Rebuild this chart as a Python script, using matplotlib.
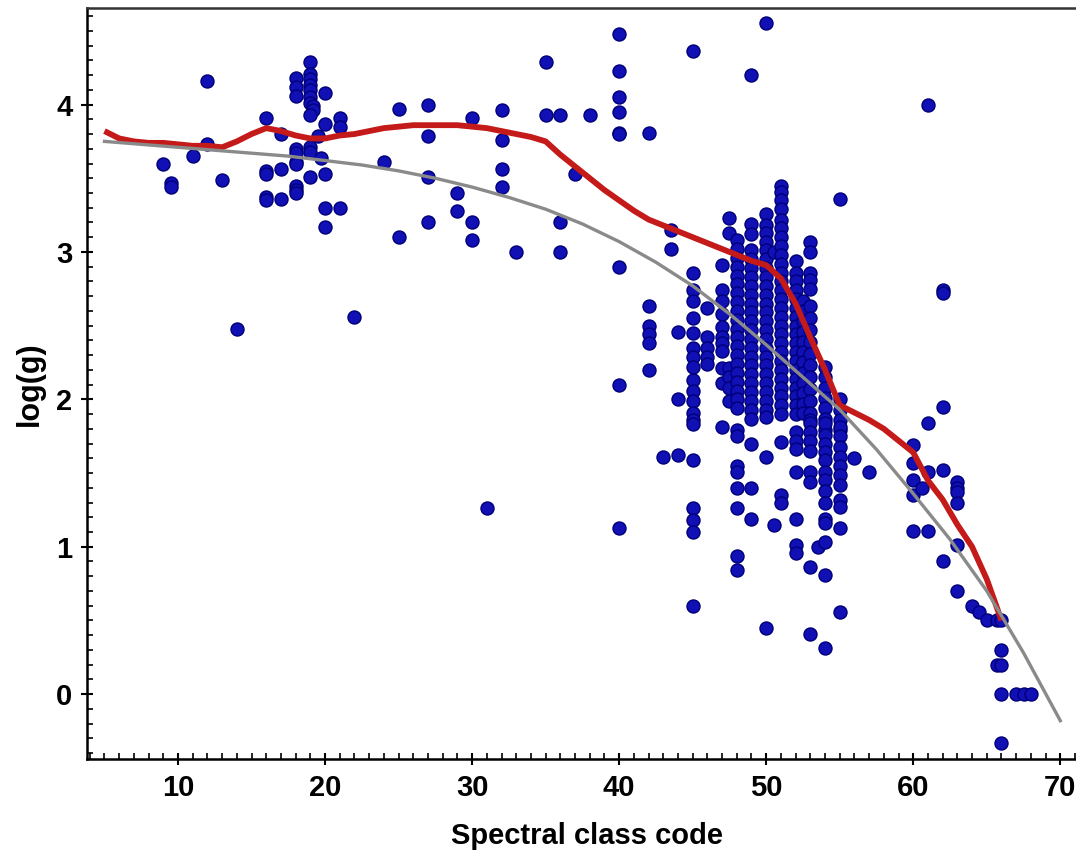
import numpy as np
import matplotlib
matplotlib.use("Agg")
import matplotlib.pyplot as plt
from matplotlib.ticker import MultipleLocator

plt.rcParams['font.family'] = ['Liberation Sans', 'DejaVu Sans']
plt.rcParams['font.weight'] = 'bold'

# sparse stars, hot side (spectral code <= 38)
hot_x = [9, 9.5, 9.5, 11, 12, 12, 13, 14, 16, 16, 16, 16, 16, 17, 17, 17,
         18, 18, 18, 18, 18, 18, 18, 18, 18, 18,
         19, 19, 19, 19, 19, 19, 19, 19.2, 19.2, 19, 19, 19, 19, 19.5, 19.7,
         20, 20, 20, 20, 20, 21, 21, 21, 22, 24, 25, 25, 27, 27, 27, 27,
         29, 29, 30, 30, 30, 31, 32, 32, 32, 32, 33, 35, 35, 36, 36, 36, 37, 38]
hot_y = [3.60, 3.47, 3.44, 3.65, 4.16, 3.73, 3.49, 2.48, 3.91, 3.55, 3.53, 3.37, 3.35, 3.80, 3.56, 3.36,
         4.18, 4.12, 4.06, 3.70, 3.67, 3.61, 3.60, 3.45, 3.42, 3.40,
         4.29, 4.21, 4.17, 4.13, 4.10, 4.05, 4.01, 3.99, 3.96, 3.93, 3.71, 3.68, 3.51, 3.79, 3.64,
         4.08, 3.87, 3.53, 3.30, 3.17, 3.91, 3.85, 3.30, 2.56, 3.61, 3.97, 3.10, 4.00, 3.79, 3.51, 3.20,
         3.40, 3.28, 3.91, 3.20, 3.08, 1.26, 3.96, 3.76, 3.56, 3.44, 3.00, 4.29, 3.93, 3.93, 3.20, 3.00, 3.53, 3.93]

# sparse stars, 40 - 46
mid_x = [40] * 9 + [42] * 6 + [43, 43.5, 43.5] + [44] * 3 + [45] * 20 + [46] * 5
mid_y = [4.48, 4.23, 4.05, 3.95, 3.81, 3.80, 2.90, 2.10, 1.13,
         3.81, 2.63, 2.50, 2.44, 2.38, 2.20,
         1.61, 3.15, 3.02,
         2.46, 2.00, 1.62,
         4.36, 2.86, 2.74, 2.67, 2.55, 2.45, 2.35, 2.29, 2.22, 2.13, 2.06, 1.99, 1.91, 1.86, 1.83,
         1.59, 1.26, 1.18, 1.10, 0.60,
         2.62, 2.42, 2.35, 2.29, 2.24]

# giant clump, 47 - 55
c47 = [2.91, 2.74, 2.67, 2.58, 2.49, 2.42, 2.38, 2.33, 2.21, 2.11, 1.81]
c47h = [3.23, 3.13, 2.21, 2.15, 2.08, 1.99]
c48 = [3.08, 3.02, 2.96, 2.90, 2.84, 2.78, 2.72, 2.66, 2.60, 2.54, 2.48, 2.42, 2.36, 2.30,
       2.24, 2.18, 2.12, 2.06, 2.00, 1.94, 1.79, 1.75, 1.55, 1.51, 1.40, 1.26, 0.94, 0.84]
c49 = [4.20, 3.19, 3.12, 3.01, 2.95, 2.89, 2.83, 2.77, 2.71, 2.65, 2.59, 2.53, 2.47, 2.41, 2.35,
       2.29, 2.23, 2.17, 2.11, 2.05, 1.99, 1.93, 1.87, 1.70, 1.40, 1.19]
c50 = [4.55, 3.26, 3.18, 3.13, 3.07, 3.01, 2.95, 2.89, 2.83, 2.77, 2.71, 2.65, 2.59, 2.53, 2.47,
       2.41, 2.35, 2.29, 2.23, 2.17, 2.11, 2.05, 1.99, 1.93, 1.88, 1.61, 0.45]
c50h = [3.00, 1.15]
c51 = [3.45, 3.41, 3.35, 3.29, 3.22, 3.16, 3.10, 3.04, 2.98, 2.92, 2.86, 2.80, 2.74, 2.68, 2.62,
       2.56, 2.50, 2.44, 2.38, 2.32, 2.26, 2.20, 2.14, 2.08, 2.02, 1.96, 1.90, 1.71, 1.35, 1.30]
c52 = [2.94, 2.86, 2.80, 2.74, 2.68, 2.62, 2.56, 2.50, 2.44, 2.38, 2.32, 2.26, 2.20, 2.14, 2.08,
       2.02, 1.96, 1.90, 1.78, 1.72, 1.66, 1.51, 1.19, 1.01, 0.96]
c52h = [2.67, 2.60, 2.53, 2.46, 2.39, 2.32, 2.25, 2.18, 2.11, 2.04, 1.97, 1.91]
c53 = [3.07, 3.00, 2.86, 2.81, 2.75, 2.63, 2.55, 2.47, 2.39, 2.31, 2.23, 2.15, 2.07, 1.99, 1.91,
       1.86, 1.84, 1.78, 1.72, 1.65, 1.51, 1.44, 0.86, 0.41]
c53h = [1.00]
c54 = [2.22, 2.15, 2.08, 2.01, 1.94, 1.87, 1.79, 1.84, 1.76, 1.70, 1.64, 1.59, 1.51, 1.45, 1.38,
       1.30, 1.19, 1.16, 1.03, 0.81, 0.31]
c55 = [3.36, 2.00, 1.93, 1.86, 1.79, 1.81, 1.75, 1.68, 1.61, 1.55, 1.49, 1.42, 1.32, 1.27, 1.13, 0.56]
clump_codes = [47, 47.5, 48, 49, 50, 50.5, 51, 52, 52.5, 53, 53.5, 54, 55]
clump_cols = [c47, c47h, c48, c49, c50, c50h, c51, c52, c52h, c53, c53h, c54, c55]

# cool side (56+)
cool_x = [56, 57, 60, 60, 60, 60, 60, 60.6, 61, 61, 61, 61, 62, 62, 62, 62, 62,
          63, 63, 63, 63, 63, 63, 64, 64.5, 65, 65.7, 65.7, 66, 66, 66, 66, 66, 67, 67.5, 68]
cool_y = [1.60, 1.51, 1.69, 1.57, 1.45, 1.35, 1.11, 1.40, 4.00, 1.84, 1.51, 1.11,
          2.74, 2.72, 1.95, 1.52, 0.90,
          1.44, 1.40, 1.37, 1.30, 1.01, 0.70, 0.60, 0.56, 0.50, 0.50, 0.20,
          0.50, 0.30, 0.20, 0.00, -0.33, 0.00, 0.00, 0.00]

# smoothed trend (red) and polynomial fit (gray)
loess_x = [5, 6, 7, 8, 9, 10, 11, 12, 13, 14, 15, 16, 17, 18, 19, 20, 21, 22, 23, 24, 25, 26, 27,
           28, 29, 30, 31, 32, 33, 34, 35, 36, 37, 38, 39, 40, 41, 42, 43, 44, 45, 46, 47, 48,
           49, 50, 51, 52, 53, 54, 55, 56, 57, 58, 59, 60, 61, 62, 63, 64, 65, 66]
loess_y = [3.82, 3.77, 3.75, 3.74, 3.74, 3.73, 3.72, 3.72, 3.71, 3.75, 3.80, 3.84, 3.82, 3.79,
           3.77, 3.77, 3.79, 3.80, 3.82, 3.84, 3.85, 3.86, 3.86, 3.86, 3.86, 3.85, 3.84, 3.82,
           3.80, 3.78, 3.75, 3.66, 3.58, 3.50, 3.42, 3.35, 3.28, 3.22, 3.18, 3.14, 3.10, 3.06,
           3.02, 2.98, 2.94, 2.91, 2.82, 2.65, 2.42, 2.20, 1.96, 1.91, 1.86, 1.80, 1.72, 1.64,
           1.45, 1.32, 1.15, 1.00, 0.78, 0.50]
fit_x = [5, 7.5, 10, 12.5, 15, 17.5, 20, 22.5, 25, 27.5, 30, 32.5, 35, 37.5, 40, 42.5, 45,
         47.5, 50, 52.5, 55, 57.5, 60, 62.5, 65, 67.5, 70]
fit_y = [3.75, 3.73, 3.71, 3.69, 3.67, 3.65, 3.62, 3.59, 3.55, 3.50, 3.44, 3.37, 3.29, 3.19,
         3.07, 2.93, 2.77, 2.58, 2.37, 2.15, 1.93, 1.66, 1.36, 1.05, 0.70, 0.28, -0.18]

xs = list(hot_x) + list(mid_x) + list(cool_x)
ys = list(hot_y) + list(mid_y) + list(cool_y)
for code, col in zip(clump_codes, clump_cols):
    xs += [code] * len(col)
    ys += col

fig = plt.figure(figsize=(10.76, 8.57), dpi=100)
ax = fig.add_axes([87 / 1076, 1 - 759 / 857, 1.01 - 87 / 1076, (759 - 8) / 857])

ax.scatter(xs, ys, s=88, c='#1010b4', edgecolors='#00007a', linewidths=1.0, zorder=2)
ax.plot(loess_x, loess_y, color='#c41a1a', lw=4.2, zorder=3, solid_capstyle='butt')
ax.plot(fit_x, fit_y, color='#8a8a8a', lw=2.4, zorder=4)

ax.set_xlim(3.81, 71.8)
ax.set_ylim(-0.44, 4.655)
ax.set_xticks([10, 20, 30, 40, 50, 60, 70])
ax.set_yticks([0, 1, 2, 3, 4])
ax.xaxis.set_minor_locator(MultipleLocator(1))
ax.yaxis.set_minor_locator(MultipleLocator(0.1))
ax.tick_params(which='major', direction='inout', length=9, width=1.5, labelsize=21, pad=6)
ax.tick_params(which='minor', direction='in', length=4, width=1.2)
ax.spines['right'].set_visible(False)
for side in ['left', 'bottom', 'top']:
    ax.spines[side].set_linewidth(1.8)
ax.spines['top'].set_color('#333333')

ax.set_xlabel('Spectral class code', fontsize=21, fontweight='bold', labelpad=15)
ax.set_ylabel('log(g)', fontsize=22, fontweight='bold', labelpad=8)

fig.savefig('out.png', dpi=100)
